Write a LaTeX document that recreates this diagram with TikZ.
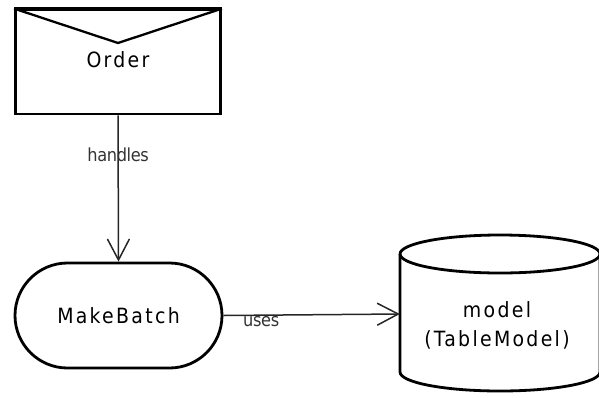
\documentclass[tikz,border=0pt]{standalone}
\usepackage{fontspec}
\usetikzlibrary{arrows.meta,shapes.misc}
\newfontfamily\boxfont[LetterSpace=11]{DejaVu Sans Condensed}
\newfontfamily\edgefont[LetterSpace=-2]{DejaVu Sans Condensed}
\tikzset{
  thickline/.style={line width=2.8pt, black},
  boxtext/.style={font=\boxfont\fontsize{21pt}{29pt}\selectfont, align=center, text=black},
  edgelabel/.style={font=\edgefont\fontsize{18pt}{20pt}\selectfont, text=black!80, inner sep=0pt},
  flow/.style={line width=1.5pt, draw=black!85, -{Straight Barb[length=21pt,width=22pt,line width=1.5pt]}},
}
\begin{document}
\begin{tikzpicture}[x=1pt,y=-1pt]
  \useasboundingbox (0,0) rectangle (599,397);
  \clip (0,0) rectangle (599,397);

  % envelope (message) node
  \node[thickline, draw, rectangle, minimum width=205pt, minimum height=104pt, inner sep=0pt]
    (order) at (118,62) {};
  \draw[line width=3.8pt] (order.north west) -- (order.north east);
  \draw[line width=2.3pt, line join=miter] (order.north west) -- (118,43) -- (order.north east);
  \node[boxtext] (ordertext) at (118,60) {Order};

  % stadium-shaped process node
  \node[thickline, draw, rounded rectangle, minimum width=207pt, minimum height=105pt, inner sep=0pt,
        boxtext] (batch) at (118.5,315.5) {MakeBatch};

  % data store cylinder
  \node[minimum width=200pt, minimum height=120pt, inner sep=0pt] (model) at (500,314) {};
  \draw[thickline] (400,254) arc[start angle=180, end angle=-180, x radius=100pt, y radius=19pt];
  \draw[thickline] (400,254) -- (400,372)
    arc[start angle=180, end angle=360, x radius=100pt, y radius=19pt] -- (600,254);
  \node[boxtext] (modeltext) at (497,325) {model\\(TableModel)};

  % connectors
  \draw[flow] (order.south) -- (batch.north)
    node[pos=0.27, edgelabel] (handles) {handles};
  \draw[flow] (batch.east) -- (model.west)
    node[pos=0.0, anchor=north west, xshift=19pt, yshift=0pt, edgelabel] (uses) {uses};
\end{tikzpicture}
\end{document}
